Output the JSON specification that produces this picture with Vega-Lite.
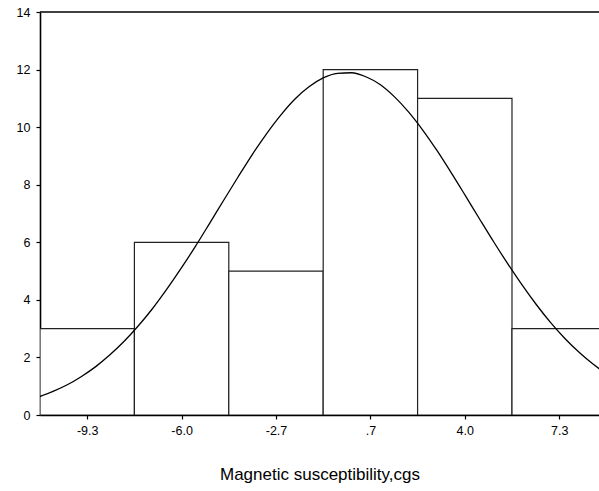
{
  "$schema": "https://vega.github.io/schema/vega-lite/v6.json",
  "width": 559,
  "height": 403,
  "autosize": {"type": "none"},
  "padding": {"left": 40, "top": 12, "right": 0, "bottom": 76},
  "background": "white",
  "config": {
    "view": {"stroke": null},
    "font": "Liberation Sans",
    "axis": {
      "domainColor": "black",
      "domainWidth": 1.6,
      "tickColor": "black",
      "tickWidth": 1.2,
      "tickSize": 4,
      "labelColor": "black",
      "labelFontSize": 12.5,
      "labelFont": "Liberation Sans",
      "titleFont": "Liberation Sans",
      "titleColor": "black",
      "titleFontWeight": "normal",
      "grid": false
    }
  },
  "datasets": {
    "bins": [
      {"x0": -10.96, "x1": -7.64, "count": 3},
      {"x0": -7.64, "x1": -4.32, "count": 6},
      {"x0": -4.32, "x1": -1.0, "count": 5},
      {"x0": -1.0, "x1": 2.32, "count": 12},
      {"x0": 2.32, "x1": 5.64, "count": 11},
      {"x0": 5.64, "x1": 8.96, "count": 3}
    ],
    "curve": [
      {"x": -11.0, "y": 0.63}, {"x": -10.5, "y": 0.82}, {"x": -10.0, "y": 1.05},
      {"x": -9.5, "y": 1.34}, {"x": -9.0, "y": 1.68}, {"x": -8.5, "y": 2.09},
      {"x": -8.0, "y": 2.56}, {"x": -7.5, "y": 3.10}, {"x": -7.0, "y": 3.70},
      {"x": -6.5, "y": 4.37}, {"x": -6.0, "y": 5.09}, {"x": -5.5, "y": 5.85},
      {"x": -5.0, "y": 6.65}, {"x": -4.5, "y": 7.46}, {"x": -4.0, "y": 8.26},
      {"x": -3.5, "y": 9.04}, {"x": -3.0, "y": 9.76}, {"x": -2.5, "y": 10.41},
      {"x": -2.0, "y": 10.97}, {"x": -1.5, "y": 11.40}, {"x": -1.0, "y": 11.71},
      {"x": -0.5, "y": 11.87}, {"x": 0.0, "y": 11.89}, {"x": 0.5, "y": 11.75},
      {"x": 1.0, "y": 11.48}, {"x": 1.5, "y": 11.06}, {"x": 2.0, "y": 10.53},
      {"x": 2.5, "y": 9.90}, {"x": 3.0, "y": 9.19}, {"x": 3.5, "y": 8.42},
      {"x": 4.0, "y": 7.62}, {"x": 4.5, "y": 6.81}, {"x": 5.0, "y": 6.01},
      {"x": 5.5, "y": 5.24}, {"x": 6.0, "y": 4.51}, {"x": 6.5, "y": 3.83},
      {"x": 7.0, "y": 3.21}, {"x": 7.5, "y": 2.66}, {"x": 8.0, "y": 2.18},
      {"x": 8.5, "y": 1.76}, {"x": 9.0, "y": 1.40}
    ]
  },
  "layer": [
    {
      "data": {"name": "bins"},
      "mark": {"type": "rect", "fill": "white", "stroke": "#222222", "strokeWidth": 1.2, "clip": true},
      "encoding": {
        "x": {
          "field": "x0", "type": "quantitative",
          "scale": {"domain": [-10.96, 8.7], "nice": false, "zero": false},
          "axis": {
            "values": [-9.3, -5.98, -2.66, 0.66, 3.98, 7.3],
            "labelExpr": "datum.value == -9.3 ? '-9.3' : datum.value == -5.98 ? '-6.0' : datum.value == -2.66 ? '-2.7' : datum.value == 0.66 ? '.7' : datum.value == 3.98 ? '4.0' : '7.3'",
            "title": "Magnetic susceptibility,cgs",
            "titleFontSize": 17,
            "titlePadding": 30,
            "labelPadding": 5
          }
        },
        "x2": {"field": "x1"},
        "y": {
          "field": "count", "type": "quantitative",
          "scale": {"domain": [0, 14], "nice": false},
          "axis": {"values": [0, 2, 4, 6, 8, 10, 12, 14], "title": null, "labelPadding": 6}
        },
        "y2": {"datum": 0}
      }
    },
    {
      "data": {"name": "curve"},
      "mark": {"type": "line", "color": "black", "strokeWidth": 1.3, "clip": true, "interpolate": "monotone"},
      "encoding": {
        "x": {"field": "x", "type": "quantitative"},
        "y": {"field": "y", "type": "quantitative"}
      }
    },
    {
      "data": {"values": [{}]},
      "mark": {"type": "rule", "color": "black", "strokeWidth": 1.4},
      "encoding": {
        "y": {"datum": 14, "type": "quantitative"}
      }
    }
  ]
}
